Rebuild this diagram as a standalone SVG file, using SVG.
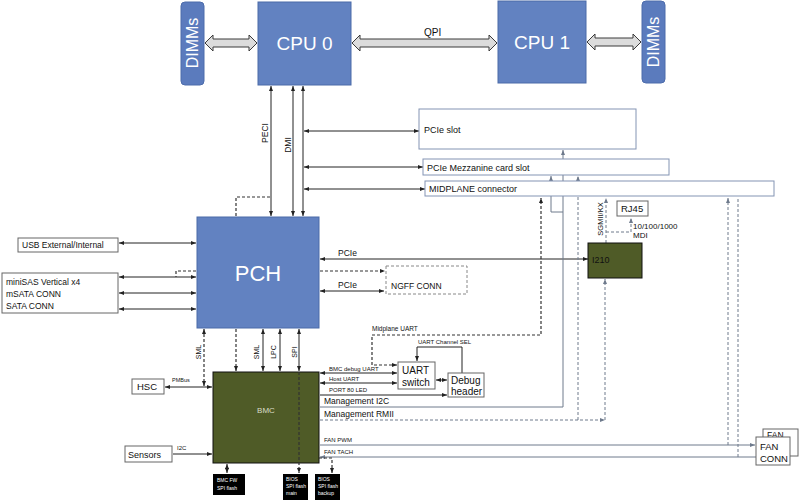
<svg xmlns="http://www.w3.org/2000/svg" width="800" height="502" viewBox="0 0 800 502">
<style>
.t{font-family:"Liberation Sans",Arial,sans-serif;fill:#111}
.w{font-family:"Liberation Sans",Arial,sans-serif;fill:#fff}
.blue{fill:#6282c1;stroke:#4a6aa8;stroke-width:1}
.dimm{fill:#5b7bbd;stroke:#4d6cab;stroke-width:1}
.olive{fill:#4f5b27;stroke:#111;stroke-width:1}
.box{fill:#fff;stroke:#8394b3;stroke-width:1}
.gbox{fill:#fff;stroke:#666;stroke-width:1}
.big{fill:#dcdcdc;stroke:#3a3a3a;stroke-width:1}
.s{fill:none;stroke:#222;stroke-width:1}
.g{fill:none;stroke:#6e7a8c;stroke-width:1}
.d{fill:none;stroke:#333;stroke-width:1.2;stroke-dasharray:3,2}
.dg{fill:none;stroke:#6e7a8c;stroke-width:1;stroke-dasharray:3,2}
.blk{fill:#000}
</style>
<defs>
<marker id="a" viewBox="0 0 10 10" refX="10" refY="5" markerWidth="5" markerHeight="5" orient="auto-start-reverse" markerUnits="userSpaceOnUse"><path d="M0,1 L10,5 L0,9 z" fill="#222"/></marker>
<marker id="ag" viewBox="0 0 10 10" refX="10" refY="5" markerWidth="5" markerHeight="5" orient="auto-start-reverse" markerUnits="userSpaceOnUse"><path d="M0,1 L10,5 L0,9 z" fill="#6e7a8c"/></marker>
</defs>

<!-- connectors -->
<g id="connectors">
<polygon class="big" points="205,43 213,35 213,39 249,39 249,35 257,43 249,51 249,47 213,47 213,51"/>
<polygon class="big" points="352,43 360,35 360,39 489,39 489,35 497,43 489,51 489,47 360,47 360,51"/>
<polygon class="big" points="587,42 595,34 595,38 633,38 633,34 641,42 633,50 633,46 595,46 595,50"/>
<text class="t" x="424" y="36" font-size="10">QPI</text>

<path class="s" d="M271,86 V216" marker-start="url(#a)" marker-end="url(#a)"/>
<path class="s" d="M293,86 V216" marker-start="url(#a)" marker-end="url(#a)"/>
<path class="s" d="M303,86 V216" marker-start="url(#a)" marker-end="url(#a)"/>
<text class="t" font-size="8.5" transform="translate(268,133) rotate(-90)" text-anchor="middle">PECI</text>
<text class="t" font-size="8.5" transform="translate(291,145) rotate(-90)" text-anchor="middle">DMI</text>
<path class="d" d="M236,216 V197 H271"/>

<path class="s" d="M304,131 H419" marker-start="url(#a)" marker-end="url(#a)"/>
<path class="s" d="M304,167 H423" marker-start="url(#a)" marker-end="url(#a)"/>
<path class="s" d="M304,189 H425" marker-start="url(#a)" marker-end="url(#a)"/>

<!-- left -->
<path class="s" d="M119,243 H196" marker-start="url(#a)" marker-end="url(#a)"/>
<path class="s" d="M119,277 H196" marker-start="url(#a)" marker-end="url(#a)"/>
<path class="s" d="M119,293 H196" marker-start="url(#a)" marker-end="url(#a)"/>
<path class="s" d="M119,309 H196" marker-start="url(#a)" marker-end="url(#a)"/>
<path class="d" d="M196,271 H176 V277"/>

<!-- PCH right -->
<path class="s" d="M320,259 H588" marker-start="url(#a)" marker-end="url(#a)"/>
<text class="t" x="338" y="256" font-size="8.5">PCIe</text>
<path class="d" d="M320,271 H385" marker-end="url(#a)"/>
<path class="s" d="M320,291 H384" marker-start="url(#a)" marker-end="url(#a)"/>
<text class="t" x="338" y="288" font-size="8.5">PCIe</text>

<!-- PCH to BMC -->
<path class="d" d="M204,329 V386" marker-start="url(#a)" marker-end="url(#a)"/>
<text class="t" font-size="7" transform="translate(201,352) rotate(-90)" text-anchor="middle">SML</text>
<path class="d" d="M236,329 V371" marker-end="url(#a)"/>
<path class="s" d="M263,329 V371" marker-start="url(#a)" marker-end="url(#a)"/>
<text class="t" font-size="7" transform="translate(259,352) rotate(-90)" text-anchor="middle">SML</text>
<path class="s" d="M280,329 V371" marker-start="url(#a)" marker-end="url(#a)"/>
<text class="t" font-size="7" transform="translate(276,352) rotate(-90)" text-anchor="middle">LPC</text>
<path class="s" d="M299,329 V371" marker-start="url(#a)" marker-end="url(#a)"/>
<text class="t" font-size="7" transform="translate(297,352) rotate(-90)" text-anchor="middle">SPI</text>

<!-- HSC / Sensors -->
<path class="s" d="M165,387 H212" marker-start="url(#a)" marker-end="url(#a)"/>
<text class="t" x="172" y="382" font-size="5.5">PMBus</text>
<path class="s" d="M173,454 H212" marker-end="url(#a)"/>
<text class="t" x="177" y="450" font-size="6">I2C</text>

<!-- UART section -->
<path class="d" d="M397,365 H372 V335 H541 V198" marker-start="url(#a)" marker-end="url(#a)"/>
<text class="t" x="372" y="331" font-size="6.5">Midplane UART</text>
<path class="s" d="M320,373 H397" marker-start="url(#a)" marker-end="url(#a)"/>
<text class="t" x="329" y="371" font-size="6">BMC debug UART</text>
<path class="s" d="M320,383 H397" marker-start="url(#a)" marker-end="url(#a)"/>
<text class="t" x="329" y="381" font-size="6">Host UART</text>
<path class="s" d="M320,395 H447" marker-end="url(#a)"/>
<text class="t" x="329" y="392" font-size="6">PORT 80 LED</text>
<path class="s" d="M436,380 H447" marker-start="url(#a)" marker-end="url(#a)"/>
<path class="s" d="M462,373 V347 H417 V361" marker-end="url(#a)"/>
<text class="t" x="418" y="344" font-size="6">UART Channel SEL</text>

<!-- Management I2C -->
<path class="g" d="M320,407 H563 V150" marker-end="url(#ag)"/>
<path class="g" d="M563,212 H551 V176" marker-end="url(#ag)"/>
<text class="t" x="324" y="404" font-size="8.5">Management I2C</text>
<!-- Management RMII -->
<path class="dg" d="M320,420 H605" marker-end="url(#ag)"/>
<path class="dg" d="M578,420 V176" marker-end="url(#ag)"/>
<path class="dg" d="M605,420 V279" marker-end="url(#ag)"/>
<text class="t" x="324" y="417" font-size="8.5">Management RMII</text>

<!-- SGMII -->
<path class="dg" d="M606,243 V198" marker-end="url(#ag)"/>
<path class="dg" d="M606,232 H631 V218" marker-end="url(#ag)"/>
<text class="t" font-size="7.5" transform="translate(603,219) rotate(-90)" text-anchor="middle">SGMII/KX</text>
<text class="t" x="633" y="229" font-size="8">10/100/1000</text>
<text class="t" x="633" y="238" font-size="8">MDI</text>

<!-- FAN -->
<path class="g" d="M320,445 H755" marker-end="url(#ag)"/>
<text class="t" x="324" y="442" font-size="6">FAN PWM</text>
<path class="g" d="M756,457 H320" marker-end="url(#ag)"/>
<text class="t" x="324" y="454" font-size="6">FAN TACH</text>
<path class="dg" d="M728,445 V198" marker-end="url(#ag)"/>
<path class="dg" d="M738,457 V197"/>

<!-- flash -->
<path class="s" d="M227,464 V473" marker-start="url(#a)" marker-end="url(#a)"/>
<path class="d" d="M299,458 H332 V473" marker-end="url(#a)"/>
</g>

<g id="dimms-left"><rect class="dimm" x="181" y="2" width="23" height="83" rx="4"/><text class="w" font-size="16" transform="translate(198,43) rotate(-90)" text-anchor="middle">DIMMs</text></g>
<g id="cpu0"><rect class="blue" x="258" y="2" width="93" height="83"/><text class="w" x="304.5" y="50" font-size="19" text-anchor="middle">CPU 0</text></g>
<g id="cpu1"><rect class="blue" x="498" y="1" width="88" height="82"/><text class="w" x="542" y="49" font-size="19" text-anchor="middle">CPU 1</text></g>
<g id="dimms-right"><rect class="dimm" x="642" y="1" width="23" height="82" rx="4"/><text class="w" font-size="16" transform="translate(659,42) rotate(-90)" text-anchor="middle">DIMMs</text></g>

<g id="pcie-slot"><rect class="box" x="419" y="109" width="217" height="40"/><text class="t" x="424" y="133" font-size="9">PCIe slot</text></g>
<g id="mezz"><rect class="box" x="423" y="159" width="246" height="16"/><text class="t" x="427" y="171" font-size="9">PCIe Mezzanine card slot</text></g>
<g id="midplane"><rect class="box" x="425" y="181" width="349" height="15"/><text class="t" x="429" y="192" font-size="9">MIDPLANE connector</text></g>

<g id="pch"><rect class="blue" x="197" y="217" width="122" height="111"/><text class="w" x="258" y="281" font-size="22" text-anchor="middle">PCH</text></g>
<g id="usb"><rect class="gbox" x="18" y="238" width="100" height="14"/><text class="t" x="22" y="248" font-size="8.5">USB External/Internal</text></g>
<g id="sata"><rect class="gbox" x="2" y="273" width="116" height="40"/><text class="t" x="6" y="285" font-size="8.5">miniSAS Vertical x4</text><text class="t" x="6" y="297" font-size="8.5">mSATA CONN</text><text class="t" x="6" y="309" font-size="8.5">SATA CONN</text></g>
<g id="ngff"><rect x="386" y="266" width="81" height="28" fill="#fff" stroke="#888" stroke-dasharray="3,2"/><text class="t" x="391" y="289" font-size="8.5">NGFF CONN</text></g>

<g id="rj45"><rect class="gbox" x="617" y="201" width="31" height="15"/><text class="t" x="621" y="212" font-size="9.5">RJ45</text></g>
<g id="i210"><rect class="olive" x="588" y="243" width="54" height="35"/><text class="t" x="592" y="263" font-size="9">I210</text></g>

<g id="bmc"><rect class="olive" x="213" y="372" width="106" height="91"/><text x="266" y="413" font-size="8" text-anchor="middle" font-family="Liberation Sans, Arial, sans-serif" fill="#d9dcc8">BMC</text></g>
<path class="d" d="M299,372 V473" marker-end="url(#a)"/>
<g id="hsc"><rect class="gbox" x="132" y="379" width="32" height="15"/><text class="t" x="137" y="390" font-size="9.5">HSC</text></g>
<g id="sensors"><rect class="gbox" x="125" y="446" width="47" height="16"/><text class="t" x="128" y="458" font-size="9">Sensors</text></g>
<g id="uart-switch"><rect class="gbox" x="398" y="362" width="37" height="27"/><text class="t" x="402" y="374" font-size="10">UART</text><text class="t" x="402" y="386" font-size="10">switch</text></g>
<g id="debug"><rect class="gbox" x="448" y="373" width="36" height="24"/><text class="t" x="451" y="384" font-size="10">Debug</text><text class="t" x="451" y="395" font-size="10">header</text></g>

<g id="fan-back"><rect class="gbox" x="763" y="429" width="35" height="27"/><text class="t" x="767" y="438" font-size="8.5">FAN</text></g>
<g id="fan-conn"><rect class="gbox" x="756" y="437" width="34" height="28"/><text class="t" x="760" y="450" font-size="9.5">FAN</text><text class="t" x="760" y="462" font-size="9.5">CONN</text></g>

<g id="bmc-fw"><rect class="blk" x="213" y="474" width="32" height="21"/><text class="w" x="217" y="482" font-size="5">BMC FW</text><text class="w" x="217" y="490" font-size="5">SPI flash</text></g>
<g id="bios-main"><rect class="blk" x="283" y="474" width="25" height="26"/><text class="w" x="286" y="481" font-size="5">BIOS</text><text class="w" x="286" y="488" font-size="5">SPI flash</text><text class="w" x="286" y="495" font-size="5">main</text></g>
<g id="bios-backup"><rect class="blk" x="315" y="474" width="25" height="26"/><text class="w" x="318" y="481" font-size="5">BIOS</text><text class="w" x="318" y="488" font-size="5">SPI flash</text><text class="w" x="318" y="495" font-size="5">backup</text></g>
</svg>
